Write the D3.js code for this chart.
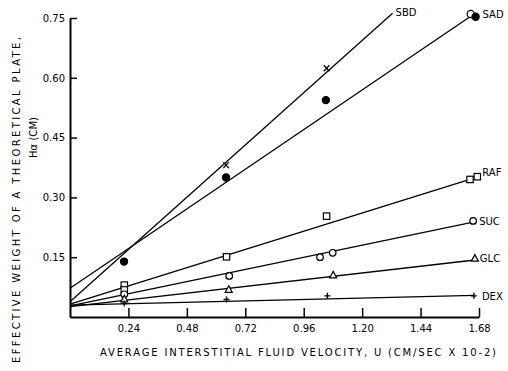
<!DOCTYPE html>
<meta charset="utf-8">
<style>
body{ margin: 0; background: white; }
svg{ font-family: "DejaVu Sans", sans-serif; }
.axis path, .axis line{ stroke: black; }
.axis path{ stroke-width: 2px; }
.axis line{ stroke-width: 1.5px; }
.axis text{ font-size: 10px; fill: black; font-family: "DejaVu Sans", sans-serif; }
.fit{ fill: none; stroke: black; stroke-width: 1.3px; }
.lbl{ font-size: 10px; }
.title{ font-size: 10px; }
</style>
<body>
<div id="chart"></div>
<script src="https://cdn.jsdelivr.net/npm/d3@7"></script>
<script>

// tick values
var xTicks = [0.24, 0.48, 0.72, 0.96, 1.20, 1.44, 1.68],
    yTicks = [0.15, 0.30, 0.45, 0.60, 0.75]

var names = ["SBD", "SAD", "RAF", "SUC", "GLC", "DEX"]

// measured points (velocity, H)
var sbdX = [0.641, 1.054],
    sbdY = [0.381, 0.624]
var sadX = [0.222, 0.641, 1.051, 1.646, 1.666],
    sadY = [0.139, 0.350, 0.544, 0.760, 0.753],
    sadOpen = [false, false, false, true, false]
var rafX = [0.223, 0.223, 0.643, 1.054, 1.643, 1.673],
    rafY = [0.080, 0.068, 0.151, 0.253, 0.345, 0.352]
var sucX = [0.223, 0.654, 1.027, 1.079, 1.656],
    sucY = [0.057, 0.103, 0.150, 0.161, 0.241]
var glcX = [0.223, 0.652, 1.081, 1.663],
    glcY = [0.045, 0.069, 0.105, 0.147]
var dexX = [0.223, 0.643, 1.057, 1.659],
    dexY = [0.034, 0.044, 0.053, 0.053]

// fitted straight lines, start and end
var sbdFitX = [0, 1.325], sbdFitY = [0.038, 0.762]
var sadFitX = [0, 1.640], sadFitY = [0.072, 0.752]
var rafFitX = [0, 1.643], rafFitY = [0.032, 0.345]
var sucFitX = [0, 1.656], sucFitY = [0.028, 0.238]
var glcFitX = [0, 1.663], glcFitY = [0.026, 0.143]
var dexFitX = [0, 1.660], dexFitY = [0.030, 0.054]

var width = 508, height = 371

var svg = d3.select('#chart').append('svg')
    .attr('width', width).attr('height', height)

var x = d3.scaleLinear().domain([0, 1.68]).range([70, 479])
var y = d3.scaleLinear().domain([0, 0.75]).range([317, 18])

var table = [
  {name: "SBD", xs: sbdX, ys: sbdY, fx: sbdFitX, fy: sbdFitY, mark: 'x'},
  {name: "SAD", xs: sadX, ys: sadY, fx: sadFitX, fy: sadFitY, mark: 'dot'},
  {name: "RAF", xs: rafX, ys: rafY, fx: rafFitX, fy: rafFitY, mark: 'square'},
  {name: "SUC", xs: sucX, ys: sucY, fx: sucFitX, fy: sucFitY, mark: 'circle'},
  {name: "GLC", xs: glcX, ys: glcY, fx: glcFitX, fy: glcFitY, mark: 'triangle'},
  {name: "DEX", xs: dexX, ys: dexY, fx: dexFitX, fy: dexFitY, mark: 'plus'}
]

// axes
svg.append('g').attr('class', 'axis')
    .attr('transform', 'translate(0,' + y(0) + ')')
    .call(d3.axisBottom(x).tickValues(xTicks).tickFormat(d3.format('.2f'))
      .tickSizeInner(-9).tickSizeOuter(0).tickPadding(8))

svg.append('g').attr('class', 'axis')
    .attr('transform', 'translate(' + x(0) + ',0)')
    .call(d3.axisLeft(y).tickValues(yTicks).tickFormat(d3.format('.2f'))
      .tickSizeInner(-7).tickSizeOuter(0).tickPadding(5))

// fitted lines
var line = d3.line().x(function(d){ return x(d[0]) }).y(function(d){ return y(d[1]) })
table.forEach(function(s){
  svg.append('path').attr('class', 'fit')
      .attr('d', line(d3.zip(s.fx, s.fy)))
})

// markers
function marker(g, type, open){
  var st = {fill: 'white', stroke: 'black', 'stroke-width': 1.2}
  if (type == 'dot') {
    g.append('circle').attr('r', 3.6)
      .attr('fill', open ? 'white' : 'black').attr('stroke', 'black').attr('stroke-width', 1.2)
  } else if (type == 'circle') {
    g.append('circle').attr('r', 3.3).attr('fill', st.fill).attr('stroke', st.stroke).attr('stroke-width', st['stroke-width'])
  } else if (type == 'square') {
    g.append('rect').attr('x', -3.2).attr('y', -3.2).attr('width', 6.4).attr('height', 6.4)
      .attr('fill', st.fill).attr('stroke', st.stroke).attr('stroke-width', st['stroke-width'])
  } else if (type == 'triangle') {
    g.append('path').attr('d', 'M0,-3.8L3.5,2.8L-3.5,2.8Z')
      .attr('fill', st.fill).attr('stroke', st.stroke).attr('stroke-width', st['stroke-width'])
  } else if (type == 'plus') {
    g.append('path').attr('d', 'M-3,0H3M0,-3V3').attr('stroke', 'black').attr('stroke-width', 1.4)
  } else if (type == 'x') {
    g.append('path').attr('d', 'M-2.8,-3L2.8,3M2.8,-3L-2.8,3').attr('stroke', 'black').attr('stroke-width', 1.3)
  }
}

table.forEach(function(s){
  s.xs.forEach(function(v, i){
    var g = svg.append('g').attr('transform', 'translate(' + x(v) + ',' + y(s.ys[i]) + ')')
    marker(g, s.mark, s.name == 'SAD' && sadOpen[i])
  })
})

// series labels
var lblOff = {SBD: [3, 3], SAD: [7, 1], RAF: [5, -1], SUC: [6, 4], GLC: [5, 4], DEX: [8, 4]}
table.forEach(function(s){
  var px, py
  if (s.name == 'SBD') { px = s.fx[1]; py = s.fy[1] }
  else { px = d3.max(s.xs); py = s.ys[s.xs.indexOf(px)] }
  svg.append('text').attr('class', 'lbl')
      .attr('x', x(px) + lblOff[s.name][0])
      .attr('y', y(py) + lblOff[s.name][1])
      .text(s.name)
})

// axis titles
svg.append('text').attr('class', 'title')
    .attr('x', 100).attr('y', 356)
    .attr('textLength', 396).attr('lengthAdjust', 'spacing')
    .text('AVERAGE INTERSTITIAL FLUID VELOCITY, U (CM/SEC  X 10-2)')

svg.append('text').attr('class', 'title')
    .attr('transform', 'translate(20,363) rotate(-90)')
    .attr('textLength', 326).attr('lengthAdjust', 'spacing')
    .text('EFFECTIVE WEIGHT OF A THEORETICAL PLATE,')

svg.append('text').attr('class', 'title')
    .attr('transform', 'translate(37,158) rotate(-90)')
    .attr('textLength', 41).attr('lengthAdjust', 'spacing')
    .text('Hα (CM)')

</script>
